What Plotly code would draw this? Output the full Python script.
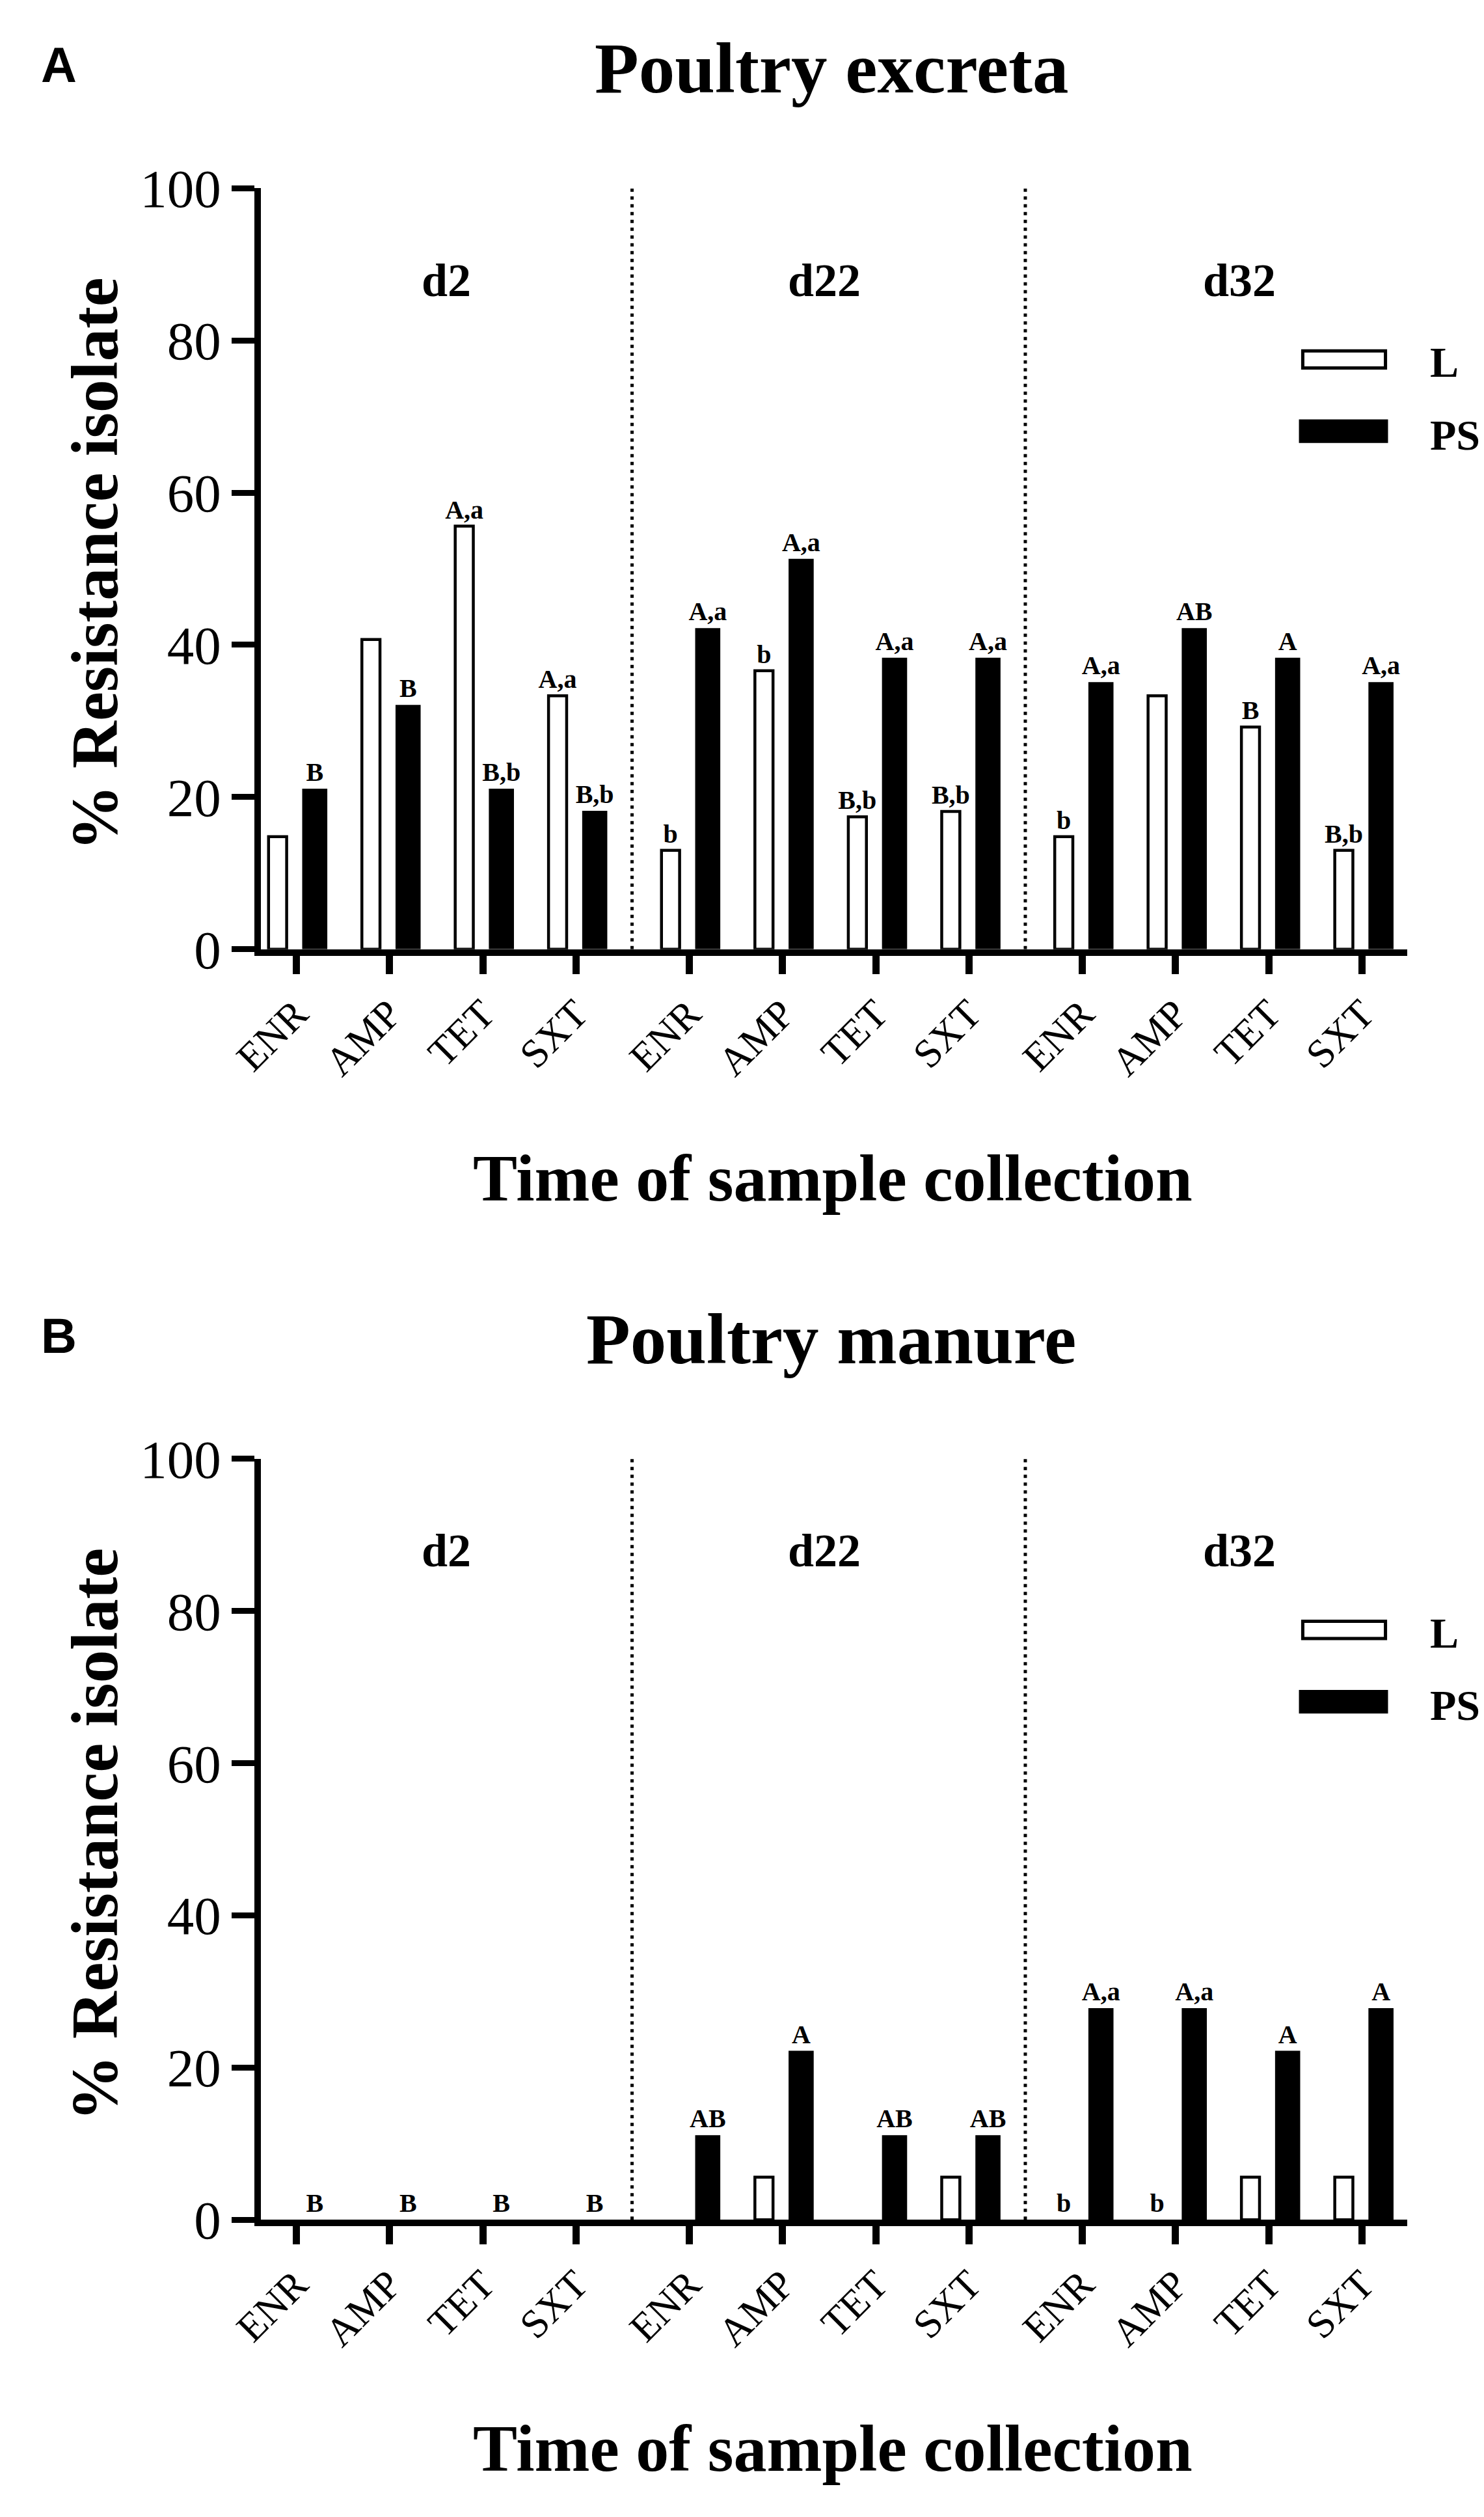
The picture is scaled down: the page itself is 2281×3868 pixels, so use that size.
import plotly.graph_objects as go

W, H = 2281, 3868
SERIF = 'Liberation Serif, Times New Roman, serif'
SANS = 'Liberation Sans, Arial, sans-serif'

# categories
drugs = ['ENR', 'AMP', 'TET', 'SXT']
days = ['d2', 'd22', 'd32']
titles = ['Poultry excreta', 'Poultry manure']
panel_tags = ['A', 'B']

# % resistant isolates, one list per sampling day (ENR, AMP, TET, SXT)
excreta_L = [[14.8, 40.7, 55.6, 33.3], [13.0, 36.6, 17.4, 18.1], [14.8, 33.3, 29.2, 13.0]]
excreta_PS = [[21.1, 32.1, 21.1, 18.2], [42.2, 51.3, 38.3, 38.3], [35.1, 42.2, 38.3, 35.1]]
manure_L = [[0, 0, 0, 0], [0, 5.6, 0, 5.6], [0, 0, 5.6, 5.6]]
manure_PS = [[0, 0, 0, 0], [11.1, 22.2, 11.1, 11.1], [27.8, 27.8, 22.2, 27.8]]

# significance letters above the bars
excreta_L_sig = [['', '', 'A,a', 'A,a'], ['b', 'b', 'B,b', 'B,b'], ['b', '', 'B', 'B,b']]
excreta_PS_sig = [['B', 'B', 'B,b', 'B,b'], ['A,a', 'A,a', 'A,a', 'A,a'], ['A,a', 'AB', 'A', 'A,a']]
manure_L_sig = [['', '', '', ''], ['', '', '', ''], ['b', 'b', '', '']]
manure_PS_sig = [['B', 'B', 'B', 'B'], ['AB', 'A', 'AB', 'AB'], ['A,a', 'A,a', 'A', 'A']]

panels = [
    (excreta_L, excreta_PS, excreta_L_sig, excreta_PS_sig),
    (manure_L, manure_PS, manure_L_sig, manure_PS_sig),
]


def px(x):
    return x / W


def py(y):
    return 1 - y / H


# pixel layout of the reference
col_px = [(351, 934), (934, 1552), (1552, 2152)]
col_range = [(-0.375, 3.6), (-0.61, 3.6), (-0.61, 3.48)]
panel_px = [(242, 1440), (2242, 3440)]  # pixel rows of 100 % and 0 %
day_x = [642, 1236, 1888]

sig_font = dict(family=SERIF, size=40, color='black', weight='bold')

fig = go.Figure()
layout_axes = {}
shapes = []
annotations = []

for p, (L, PS, L_sig, PS_sig) in enumerate(panels):
    yname = 'y' if p == 0 else 'y2'
    top, bottom = panel_px[p]
    off = 2000 * p
    for c in range(3):
        k = p * 3 + c + 1
        xname = 'x' if k == 1 else f'x{k}'

        # empty bars (value 0) get no outline, as in the original
        outline = [4.5 if v > 0 else 0 for v in L[c]]
        fig.add_trace(go.Bar(
            x=drugs, y=L[c], name='L', xaxis=xname, yaxis=yname,
            width=0.194, offset=-0.295,
            marker=dict(color='white', line=dict(color='black', width=outline)),
            text=L_sig[c], textposition='outside', textfont=sig_font,
            constraintext='none', cliponaxis=False, showlegend=False,
        ))
        fig.add_trace(go.Bar(
            x=drugs, y=PS[c], name='PS', xaxis=xname, yaxis=yname,
            width=0.269, offset=0.0655,
            marker=dict(color='black', line=dict(width=0)),
            text=PS_sig[c], textposition='outside', textfont=sig_font,
            constraintext='none', cliponaxis=False, showlegend=False,
        ))

        layout_axes['xaxis' if k == 1 else f'xaxis{k}'] = dict(
            domain=[px(col_px[c][0]), px(col_px[c][1])],
            range=list(col_range[c]),
            anchor=yname, type='category',
            showline=True, linecolor='black', linewidth=10,
            ticks='outside', ticklen=28, tickwidth=11, tickcolor='black',
            tickangle=-45, tickfont=dict(family=SERIF, size=62, color='black'),
            showgrid=False, zeroline=False, fixedrange=True,
        )

        annotations.append(dict(
            text=days[c], xref='paper', yref='paper',
            x=px(day_x[c]), y=py(387 + off), xanchor='center', yanchor='middle',
            showarrow=False, font=dict(family=SERIF, size=72, color='black', weight='bold'),
        ))

        if c > 0:
            shapes.append(dict(
                type='line', xref='paper', yref=yname,
                x0=px(col_px[c][0]), x1=px(col_px[c][0]), y0=0, y1=100,
                line=dict(color='black', width=5, dash='5px,7px'),
            ))

    layout_axes['yaxis' if p == 0 else 'yaxis2'] = dict(
        domain=[py(bottom), py(top)], range=[0, 100],
        anchor='x' if p == 0 else 'x4',
        tickmode='linear', tick0=0, dtick=20,
        showline=True, linecolor='black', linewidth=10,
        ticks='outside', ticklen=35, tickwidth=9, tickcolor='black',
        tickfont=dict(family=SERIF, size=83, color='black'),
        showgrid=False, zeroline=False, fixedrange=True,
    )

    # panel titles and axis titles
    annotations += [
        dict(text=panel_tags[p], xref='paper', yref='paper', x=px(3), y=py(48 + off),
             xanchor='left', yanchor='middle', showarrow=False,
             font=dict(family=SANS, size=76, color='black', weight='bold')),
        dict(text=titles[p], xref='paper', yref='paper', x=px(1247), y=py(53 + off),
             xanchor='center', yanchor='middle', showarrow=False,
             font=dict(family=SERIF, size=111, color='black', weight='bold')),
        dict(text='Time of sample collection', xref='paper', yref='paper',
             x=px(1249), y=py(1800 + off), xanchor='center', yanchor='middle', showarrow=False,
             font=dict(family=SERIF, size=102, color='black', weight='bold')),
        dict(text='% Resistance isolate', xref='paper', yref='paper', textangle=-90,
             x=px(90), y=py(834 + off), xanchor='center', yanchor='middle', showarrow=False,
             font=dict(family=SERIF, size=101, color='black', weight='bold')),
    ]

    # legend drawn by hand: wide swatches like the original
    shapes += [
        dict(type='rect', xref='paper', yref='paper',
             x0=px(1988), x1=px(2118), y0=py(498 + off), y1=py(525 + off),
             line=dict(color='black', width=5), fillcolor='white'),
        dict(type='rect', xref='paper', yref='paper',
             x0=px(1982), x1=px(2122), y0=py(606 + off), y1=py(643 + off),
             line=dict(width=0), fillcolor='black'),
    ]
    for lab, yc in [('L', 516), ('PS', 630)]:
        annotations.append(dict(
            text=lab, xref='paper', yref='paper', x=px(2186), y=py(yc + off),
            xanchor='left', yanchor='middle', showarrow=False,
            font=dict(family=SERIF, size=66, color='black', weight='bold'),
        ))

fig.update_layout(
    width=W, height=H,
    margin=dict(l=0, r=0, t=0, b=0),
    paper_bgcolor='white', plot_bgcolor='white',
    barmode='overlay', showlegend=False,
    shapes=shapes, annotations=annotations,
    **layout_axes,
)

fig.write_html('out.html')
